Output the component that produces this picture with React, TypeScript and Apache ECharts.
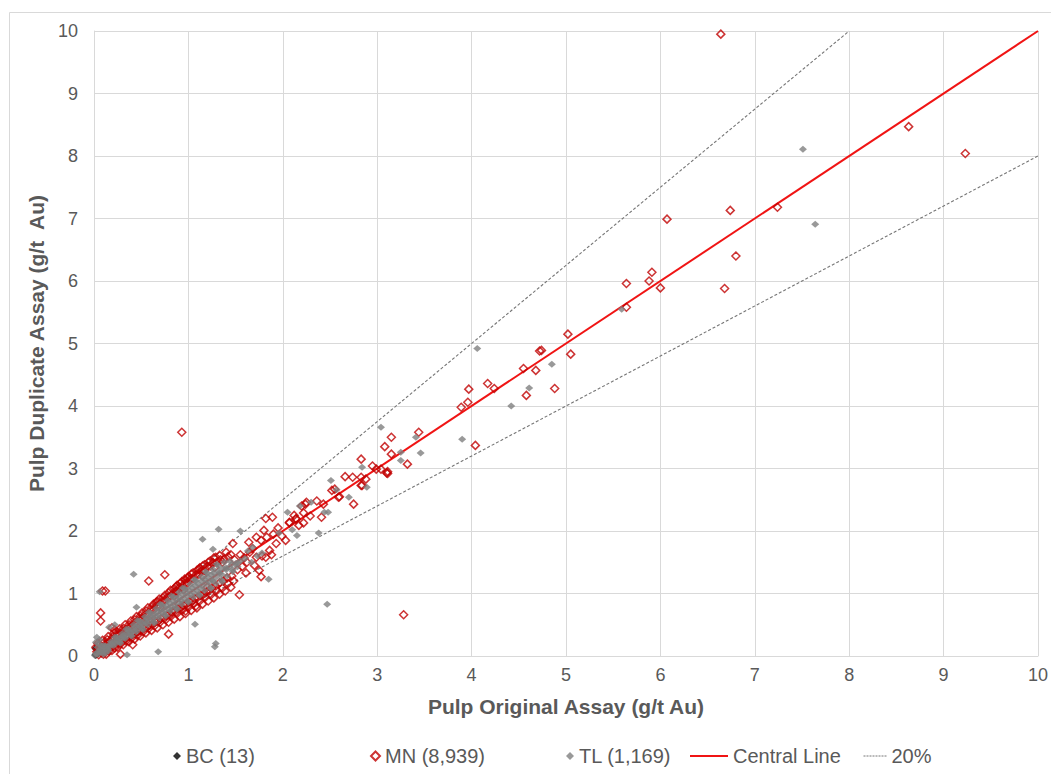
import React, { useEffect, useRef } from "react";
import * as echarts from "echarts";

// ---- axis ticks ----
const xTicks = [0, 1, 2, 3, 4, 5, 6, 7, 8, 9, 10];
const yTicks = [0, 1, 2, 3, 4, 5, 6, 7, 8, 9, 10];

// ---- reference lines ----
const centralLine = [[0, 0], [10, 10]];
const upper20 = [[0, 0], [8, 10]];
const lower20 = [[0, 0], [10, 8]];

// ---- BC (13) ----
const bcPoints = [
  [0.01, 0.12], [0.01, 0.02], [0.03, 0.03], [0.05, 0.04], [0.02, 0.01], [0.08, 0.07], [0.04, 0.05],
  [0.1, 0.11], [0.06, 0.06], [0.03, 0.02], [0.12, 0.1], [0.07, 0.08], [0.015, 0.015],
];

// ---- MN (8,939): outliers and sparse part ----
const mnSparse = [
  [6.64, 9.95], [8.63, 8.47], [9.23, 8.04], [6.74, 7.13], [6.07, 6.99], [7.24, 7.18], [6.8, 6.4],
  [6.68, 5.88], [5.64, 5.96], [5.88, 6.0], [5.91, 6.14], [6.0, 5.89], [5.64, 5.58],
  [5.02, 5.15], [5.05, 4.83], [4.72, 4.88], [4.74, 4.89], [4.55, 4.6], [4.68, 4.57], [4.88, 4.28],
  [4.58, 4.17], [4.17, 4.36], [4.24, 4.28], [3.97, 4.27], [3.89, 3.98], [3.96, 4.06], [4.04, 3.37],
  [3.44, 3.58], [3.15, 3.5], [3.08, 3.35], [3.15, 3.23], [3.32, 3.07], [2.83, 3.15], [2.95, 3.04],
  [2.99, 2.99], [3.04, 2.99], [3.11, 2.92], [3.11, 2.95], [3.1, 2.93], [2.66, 2.87], [2.74, 2.86],
  [2.83, 2.86], [2.88, 2.83], [2.83, 2.73], [2.52, 2.65], [2.55, 2.67], [2.59, 2.54], [2.75, 2.43],
  [2.36, 2.48], [2.43, 2.43], [2.41, 2.22], [2.25, 2.46], [2.2, 2.4], [2.29, 2.24], [2.22, 2.13],
  [1.89, 2.22], [2.07, 2.14], [2.14, 2.2], [2.17, 2.09], [2.12, 2.25], [2.6, 2.55], [2.84, 2.73],
  [0.93, 3.58], [3.28, 0.66],
  [2.24, 2.43], [2.22, 2.29], [2.14, 2.19], [2.07, 2.13], [1.82, 2.2], [1.8, 2.01], [1.83, 1.9],
  [1.77, 1.85], [1.72, 1.9], [2.03, 1.85], [1.93, 1.8], [1.86, 1.69], [1.82, 1.58], [1.72, 1.58],
  [1.65, 1.66], [1.59, 1.57], [1.47, 1.8], [1.49, 1.54], [1.57, 1.43], [1.61, 1.33], [1.75, 1.37],
  [1.88, 1.62], [1.77, 1.27], [1.54, 0.98], [1.68, 1.72], [1.62, 1.5], [1.55, 1.62], [1.7, 1.45],
  [1.95, 2.05], [1.99, 1.92], [1.52, 1.38], [1.64, 1.82], [1.9, 1.95], [1.78, 1.6],
  [0.58, 1.2], [0.75, 1.3], [0.79, 0.35], [0.41, 0.18], [0.28, 0.03], [0.09, 1.04], [0.12, 1.04],
  [0.07, 0.69], [0.07, 0.56], [0.19, 0.45], [0.22, 0.42],
];

// ---- MN dense band (upper side) ----
const mnBandUpper = [
  [0.03, 0.07], [0.06, 0.12], [0.09, 0.14], [0.12, 0.19], [0.15, 0.21], [0.18, 0.26], [0.21, 0.28],
  [0.24, 0.32], [0.27, 0.34], [0.3, 0.39], [0.33, 0.41], [0.36, 0.45], [0.39, 0.47], [0.42, 0.52],
  [0.45, 0.54], [0.48, 0.59], [0.51, 0.6], [0.54, 0.66], [0.57, 0.67], [0.6, 0.73], [0.63, 0.74],
  [0.66, 0.8], [0.69, 0.81], [0.72, 0.87], [0.75, 0.89], [0.78, 0.94], [0.81, 0.96], [0.84, 1.01],
  [0.87, 1.03], [0.9, 1.09], [0.93, 1.1], [0.96, 1.16], [0.99, 1.17], [1.02, 1.23], [1.05, 1.24],
  [1.08, 1.3], [1.11, 1.31], [1.14, 1.36], [1.17, 1.37], [1.2, 1.43], [1.23, 1.44], [1.26, 1.49],
  [1.3, 1.5], [1.34, 1.54], [1.38, 1.55], [1.42, 1.59], [1.45, 1.62], [1.36, 1.5], [1.28, 1.42],
  [0.5, 0.57], [0.7, 0.78], [0.95, 1.06], [1.15, 1.28], [0.35, 0.4], [0.85, 0.96],
];

// ---- MN dense band (outer upper edge) ----
const mnBandOuterUpper = [
  [0.02, 0.14], [0.05, 0.17], [0.1, 0.21], [0.14, 0.26], [0.2, 0.31], [0.25, 0.37], [0.31, 0.44],
  [0.37, 0.5], [0.43, 0.58], [0.49, 0.64], [0.55, 0.72], [0.61, 0.78], [0.67, 0.87], [0.73, 0.93],
  [0.79, 1.01], [0.85, 1.08], [0.91, 1.16], [0.97, 1.22], [1.03, 1.31], [1.09, 1.37], [1.15, 1.44],
  [1.21, 1.5], [1.27, 1.57], [1.33, 1.61], [1.4, 1.66], [0.88, 1.13], [1.0, 1.27], [1.12, 1.41],
];

// ---- MN dense band (far upper edge) ----
const mnBandFarUpper = [
  [0.04, 0.2], [0.09, 0.25], [0.15, 0.31], [0.21, 0.37], [0.27, 0.43], [0.33, 0.5], [0.39, 0.56],
  [0.45, 0.63], [0.51, 0.69], [0.57, 0.77], [0.63, 0.83], [0.69, 0.91], [0.75, 0.97], [0.81, 1.05],
  [0.87, 1.11], [0.93, 1.19], [0.99, 1.25], [1.05, 1.33], [1.11, 1.39], [1.17, 1.46], [1.23, 1.52],
  [1.29, 1.58], [0.66, 0.86], [0.96, 1.23],
];

// ---- MN dense band (lower side) ----
const mnBandLower = [
  [0.05, 0.02], [0.08, 0.05], [0.11, 0.08], [0.14, 0.1], [0.17, 0.13], [0.2, 0.16], [0.23, 0.18],
  [0.26, 0.21], [0.29, 0.23], [0.32, 0.26], [0.35, 0.29], [0.38, 0.31], [0.41, 0.34], [0.44, 0.36],
  [0.47, 0.39], [0.5, 0.41], [0.53, 0.44], [0.56, 0.46], [0.59, 0.49], [0.62, 0.51], [0.65, 0.55],
  [0.68, 0.56], [0.71, 0.6], [0.74, 0.62], [0.77, 0.65], [0.8, 0.67], [0.83, 0.71], [0.86, 0.72],
  [0.89, 0.76], [0.92, 0.78], [0.95, 0.81], [0.98, 0.83], [1.01, 0.87], [1.04, 0.88], [1.07, 0.92],
  [1.1, 0.94], [1.13, 0.97], [1.16, 0.99], [1.19, 1.03], [1.22, 1.05], [1.25, 1.09], [1.29, 1.12],
  [1.33, 1.17], [1.37, 1.2], [1.41, 1.25], [1.46, 1.28], [0.6, 0.55], [0.9, 0.83], [1.2, 1.1],
];

// ---- MN dense band (outer lower edge) ----
const mnBandOuterLower = [
  [0.1, 0.03], [0.16, 0.08], [0.22, 0.13], [0.28, 0.19], [0.34, 0.24], [0.4, 0.29], [0.46, 0.33],
  [0.52, 0.39], [0.58, 0.44], [0.64, 0.48], [0.7, 0.54], [0.76, 0.58], [0.82, 0.64], [0.88, 0.68],
  [0.94, 0.74], [1.0, 0.78], [1.06, 0.84], [1.12, 0.88], [1.18, 0.94], [1.24, 0.98], [1.3, 1.05],
  [1.36, 1.09], [1.42, 1.16], [1.48, 1.2], [1.08, 0.8], [0.97, 0.72],
];

// ---- MN dense band (far lower edge) ----
const mnBandFarLower = [
  [0.13, 0.03], [0.19, 0.09], [0.25, 0.14], [0.31, 0.18], [0.37, 0.23], [0.43, 0.27], [0.49, 0.32],
  [0.55, 0.37], [0.61, 0.41], [0.67, 0.45], [0.73, 0.5], [0.79, 0.54], [0.85, 0.59], [0.91, 0.63],
  [0.97, 0.68], [1.03, 0.73], [1.09, 0.77], [1.15, 0.83], [1.21, 0.88], [1.27, 0.93], [1.33, 0.99],
  [1.39, 1.04], [1.45, 1.1],
];

// ---- TL (1,169): dense core ----
const tlCore = [
  [0.01, 0.01], [0.02, 0.04], [0.04, 0.03], [0.05, 0.07], [0.07, 0.06], [0.08, 0.09], [0.1, 0.09],
  [0.11, 0.12], [0.13, 0.12], [0.14, 0.15], [0.16, 0.15], [0.17, 0.19], [0.19, 0.18], [0.2, 0.22],
  [0.22, 0.21], [0.24, 0.26], [0.25, 0.23], [0.27, 0.29], [0.29, 0.27], [0.3, 0.32], [0.32, 0.3],
  [0.34, 0.36], [0.35, 0.33], [0.37, 0.4], [0.39, 0.37], [0.4, 0.43], [0.42, 0.4], [0.44, 0.47],
  [0.45, 0.43], [0.47, 0.5], [0.49, 0.47], [0.5, 0.53], [0.52, 0.5], [0.54, 0.57], [0.55, 0.53],
  [0.57, 0.6], [0.59, 0.56], [0.6, 0.64], [0.62, 0.6], [0.64, 0.67], [0.65, 0.63], [0.67, 0.71],
  [0.69, 0.66], [0.7, 0.74], [0.72, 0.7], [0.74, 0.78], [0.75, 0.72], [0.77, 0.81], [0.79, 0.76],
  [0.8, 0.85], [0.82, 0.79], [0.84, 0.88], [0.85, 0.82], [0.87, 0.92], [0.89, 0.86], [0.9, 0.95],
  [0.92, 0.89], [0.94, 0.99], [0.95, 0.92], [0.97, 1.02], [0.99, 0.96], [1.0, 1.06], [1.02, 0.99],
  [1.04, 1.09], [1.05, 1.02], [1.07, 1.13], [1.09, 1.05], [1.1, 1.16], [1.12, 1.09], [1.14, 1.2],
  [1.15, 1.12], [1.17, 1.23], [1.19, 1.16], [1.2, 1.27], [1.22, 1.19], [1.24, 1.3], [1.25, 1.22],
  [1.27, 1.33], [1.3, 1.27], [1.32, 1.36], [1.35, 1.31], [1.37, 1.4], [1.4, 1.38], [1.43, 1.42],
  [1.46, 1.47], [1.5, 1.48], [1.55, 1.52], [0.03, 0.3], [0.05, 0.2], [0.04, 0.14], [0.16, 0.46],
  [0.22, 0.5], [0.08, 0.16], [0.1, 0.03], [0.15, 0.08], [0.02, 0.22], [0.06, 0.26], [0.12, 0.05],
];

// ---- TL (1,169): wider layer of the core ----
const tlCoreWide = [
  [0.06, 0.1], [0.12, 0.16], [0.18, 0.23], [0.24, 0.3], [0.3, 0.36], [0.36, 0.43], [0.42, 0.5],
  [0.48, 0.56], [0.54, 0.63], [0.6, 0.69], [0.66, 0.76], [0.72, 0.82], [0.78, 0.89], [0.84, 0.95],
  [0.9, 1.02], [0.96, 1.08], [1.02, 1.15], [1.08, 1.21], [1.14, 1.27], [1.2, 1.33], [1.26, 1.39],
  [1.32, 1.44], [1.38, 1.5], [0.09, 0.06], [0.15, 0.11], [0.21, 0.17], [0.27, 0.22], [0.33, 0.28],
  [0.39, 0.33], [0.45, 0.39], [0.51, 0.44], [0.57, 0.5], [0.63, 0.55], [0.69, 0.61], [0.75, 0.66],
  [0.81, 0.72], [0.87, 0.77], [0.93, 0.83], [0.99, 0.88], [1.05, 0.94], [1.11, 0.99], [1.17, 1.05],
  [1.23, 1.1], [1.29, 1.16], [1.35, 1.22], [1.41, 1.28], [1.47, 1.35], [1.44, 1.52], [1.52, 1.43],
  [0.1, 0.17], [0.22, 0.3], [0.34, 0.43], [0.46, 0.57], [0.58, 0.7], [0.7, 0.83], [0.82, 0.96],
  [0.94, 1.09], [1.06, 1.22], [1.18, 1.35], [1.3, 1.47], [0.28, 0.21], [0.4, 0.32], [0.52, 0.42],
  [0.64, 0.53], [0.76, 0.64], [0.88, 0.75], [1.0, 0.86], [1.12, 0.97], [1.24, 1.08], [1.36, 1.19],
];

// ---- TL (1,169): sparse part and outliers ----
const tlSparse = [
  [1.96, 1.97], [2.1, 2.02], [2.15, 1.93], [1.78, 1.65], [1.67, 1.5], [1.68, 1.74], [1.52, 1.49],
  [1.47, 1.38], [1.4, 1.41], [1.33, 1.33], [1.26, 1.21], [1.85, 1.23], [1.15, 1.87], [1.32, 2.03],
  [1.55, 2.0], [1.26, 1.71], [2.05, 2.3], [2.38, 1.97], [1.6, 1.56], [1.73, 1.6], [1.63, 1.68],
  [7.51, 8.11], [7.64, 6.91], [5.59, 5.55], [4.06, 4.92], [4.85, 4.67], [4.61, 4.29], [4.42, 4.0],
  [3.9, 3.47], [3.04, 3.66], [3.41, 3.5], [3.46, 3.25], [3.25, 3.26], [3.25, 3.13], [2.84, 3.02],
  [2.51, 2.81], [2.57, 2.66], [2.89, 2.7], [2.7, 2.54], [2.48, 2.3], [2.3, 2.46], [2.18, 2.4],
  [2.44, 2.3], [2.47, 0.83], [1.28, 0.15], [1.29, 0.2], [0.68, 0.07], [0.35, 0.02], [1.07, 0.51],
  [0.45, 0.78], [0.42, 1.31], [0.06, 1.03],
];

const mnPoints = [
  ...mnBandFarUpper, ...mnBandFarLower, ...mnBandOuterUpper, ...mnBandOuterLower,
  ...mnBandUpper, ...mnBandLower, ...mnSparse,
];
const tlPoints = [...tlCoreWide, ...tlCore, ...tlSparse];

const FONT = "'Liberation Sans', Arial, sans-serif";
const TEXT = "#595959";
const GRID = "#D9D9D9";
const MN_RED = "#C00000";
const LINE_RED = "#F01414";
const GREY = "#7F7F7F";
const DASH = "#767676";

export default function App() {
  const ref = useRef<HTMLDivElement>(null);

  useEffect(() => {
    document.body.style.margin = "0";
    const chart = echarts.init(ref.current!, null, { renderer: "svg" });
    const legendText = { color: TEXT, fontSize: 20, fontFamily: FONT };
    chart.setOption({
      animation: false,
      graphic: [
        {
          type: "rect",
          shape: { x: 9.5, y: 12.5, width: 1080, height: 800 },
          style: { fill: "none", stroke: GRID, lineWidth: 1 },
          silent: true,
          z: -10,
        },
      ],
      grid: { left: 94, right: 11, top: 31, bottom: 118 },
      xAxis: {
        type: "value",
        min: xTicks[0],
        max: xTicks[xTicks.length - 1],
        interval: 1,
        name: "Pulp Original Assay (g/t Au)",
        nameLocation: "middle",
        nameGap: 40,
        nameTextStyle: { color: TEXT, fontSize: 21, fontWeight: "bold", fontFamily: FONT },
        axisLine: { show: true, lineStyle: { color: GRID, width: 1 } },
        axisTick: { show: false },
        axisLabel: { color: TEXT, fontSize: 18, margin: 10, fontFamily: FONT },
        splitLine: { show: true, lineStyle: { color: GRID, width: 1 } },
      },
      yAxis: {
        type: "value",
        min: yTicks[0],
        max: yTicks[yTicks.length - 1],
        interval: 1,
        name: "Pulp Duplicate Assay (g/t  Au)",
        nameLocation: "middle",
        nameGap: 38,
        nameTextStyle: { color: TEXT, fontSize: 21, fontWeight: "bold", fontFamily: FONT },
        axisLine: { show: true, lineStyle: { color: GRID, width: 1 } },
        axisTick: { show: false },
        axisLabel: { color: TEXT, fontSize: 18, margin: 16, fontFamily: FONT },
        splitLine: { show: true, lineStyle: { color: GRID, width: 1 } },
      },
      legend: [
        {
          data: ["BC (13)"], left: 168, top: 741, itemWidth: 8, itemHeight: 8,
          textStyle: legendText, selectedMode: false,
        },
        {
          data: ["MN (8,939)"], left: 365, top: 741, itemWidth: 9, itemHeight: 9,
          textStyle: legendText, selectedMode: false,
        },
        {
          data: ["TL (1,169)"], left: 561, top: 741, itemWidth: 8, itemHeight: 8,
          textStyle: legendText, selectedMode: false,
        },
        {
          data: ["Central Line"], left: 684, top: 741, itemWidth: 38, itemHeight: 10,
          textStyle: legendText, selectedMode: false,
          itemStyle: { opacity: 0 },
          lineStyle: { color: LINE_RED, width: 2, opacity: 1 },
        },
        {
          data: ["20%"], left: 858, top: 741, itemWidth: 23, itemHeight: 10,
          textStyle: legendText, selectedMode: false,
          itemStyle: { opacity: 0 },
          lineStyle: { color: DASH, width: 1, type: [2, 1], opacity: 1 },
        },
      ],
      series: [
        {
          name: "20%", type: "line", data: upper20, symbol: "none", silent: true, color: DASH,
          lineStyle: { color: DASH, width: 1.1, type: [3, 2] }, z: 1,
        },
        {
          name: "20%", type: "line", data: lower20, symbol: "none", silent: true, color: DASH,
          lineStyle: { color: DASH, width: 1.1, type: [3, 2] }, z: 1,
        },
        {
          name: "Central Line", type: "line", data: centralLine, symbol: "none", silent: true,
          color: LINE_RED, lineStyle: { color: LINE_RED, width: 2 }, z: 1,
        },
        {
          name: "BC (13)", type: "scatter", data: bcPoints, symbol: "diamond", symbolSize: 7,
          itemStyle: { color: "#000000" }, z: 2,
        },
        {
          name: "MN (8,939)", type: "scatter", data: mnPoints, symbol: "diamond", symbolSize: 8,
          itemStyle: { color: "rgba(255,255,255,0)", borderColor: MN_RED, borderWidth: 1.5 }, z: 3,
        },
        {
          name: "TL (1,169)", type: "scatter", data: tlPoints, symbol: "diamond", symbolSize: [8, 7],
          itemStyle: { color: GREY }, z: 4,
        },
      ],
    });
    return () => chart.dispose();
  }, []);

  return <div ref={ref} style={{ width: 1051, height: 774 }} />;
}
